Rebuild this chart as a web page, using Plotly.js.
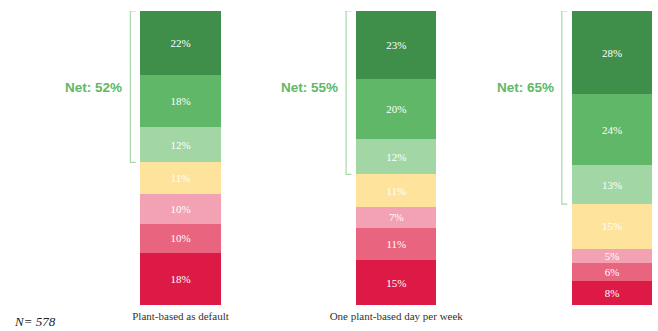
<!DOCTYPE html>
<html>
<head>
<meta charset="utf-8">
<script src="https://cdn.plot.ly/plotly-3.0.1.min.js"></script>
<style>html,body{margin:0;padding:0;background:#fff;}#chart{width:658px;height:331px;}</style>
</head>
<body>
<div id="chart"></div>
<script>
// Data (bottom of stack first)
var categories = ["Plant-based as default", "One plant-based day per week", "50% plant-based food"];
var seriesRed       = [18, 15, 8];
var seriesPink      = [10, 11, 6];
var seriesLightPink = [10, 7, 5];
var seriesYellow    = [11, 11, 15];
var seriesLightGreen= [12, 12, 13];
var seriesGreen     = [18, 20, 24];
var seriesDarkGreen = [22, 23, 28];
var sampleLabel = "N= 578";

var stack = [seriesRed, seriesPink, seriesLightPink, seriesYellow, seriesLightGreen, seriesGreen, seriesDarkGreen];
var colors = ["#dc1a45", "#e8647f", "#f2a2b2", "#fee39c", "#a2d6a4", "#5fb767", "#3f8f4a"];
var greenStart = 4;

var xs = categories.map(function(c, i){ return i; });
var barW = 0.371;
var serif = "Liberation Serif";

var traces = stack.map(function(vals, k){
  return {
    type: "bar",
    x: xs,
    y: vals,
    width: barW,
    marker: {color: colors[k], line: {width: 0}},
    text: vals.map(function(v){ return v + "%"; }),
    textposition: "inside",
    insidetextanchor: "middle",
    textangle: 0,
    constraintext: "none",
    textfont: {family: serif, size: 11, color: "#ffffff"},
    hoverinfo: "skip",
    showlegend: false
  };
});

var shapes = [], annotations = [];
xs.forEach(function(x, i){
  var total = 0, nonGreen = 0, net = 0;
  stack.forEach(function(vals, k){
    total += vals[i];
    if (k < greenStart) nonGreen += vals[i]; else net += vals[i];
  });
  var yb = nonGreen / total * 100;
  var yt = 100;
  var xv = x - barW / 2 - 0.047;
  var xt = x - barW / 2 - 0.022;
  shapes.push({
    type: "path", xref: "x", yref: "y",
    path: "M " + xt + "," + yt + " L " + xv + "," + yt + " L " + xv + "," + yb + " L " + xt + "," + yb,
    line: {color: "#a8d8aa", width: 1.2}
  });
  annotations.push({
    xref: "x", yref: "y", x: xv, y: 74, xanchor: "right", yanchor: "middle",
    xshift: -6, showarrow: false,
    text: "<b>Net: " + net + "%</b>",
    font: {family: "Liberation Sans", size: 13.5, color: "#5eb865"}
  });
});
annotations.push({
  xref: "paper", yref: "paper", x: 0.018, y: -0.055, xanchor: "left", yanchor: "middle",
  showarrow: false, text: "<i>" + sampleLabel + "</i>",
  font: {family: serif, size: 13, color: "#222"}
});

var layout = {
  width: 658, height: 331,
  margin: {l: 0, r: 0, t: 11, b: 26},
  barmode: "stack",
  barnorm: "percent",
  paper_bgcolor: "#ffffff",
  plot_bgcolor: "#ffffff",
  xaxis: {
    range: [-0.8366, 2.2132],
    tickvals: xs, ticktext: categories,
    showgrid: false, zeroline: false, showline: false, ticks: "",
    ticklabelstandoff: 3,
    tickfont: {family: serif, size: 11, color: "#333"},
    fixedrange: true
  },
  yaxis: {
    range: [0, 100], visible: false, showgrid: false, zeroline: false, fixedrange: true
  },
  shapes: shapes,
  annotations: annotations,
  showlegend: false
};

Plotly.newPlot("chart", traces, layout, {displayModeBar: false, staticPlot: true});
</script>
</body>
</html>
